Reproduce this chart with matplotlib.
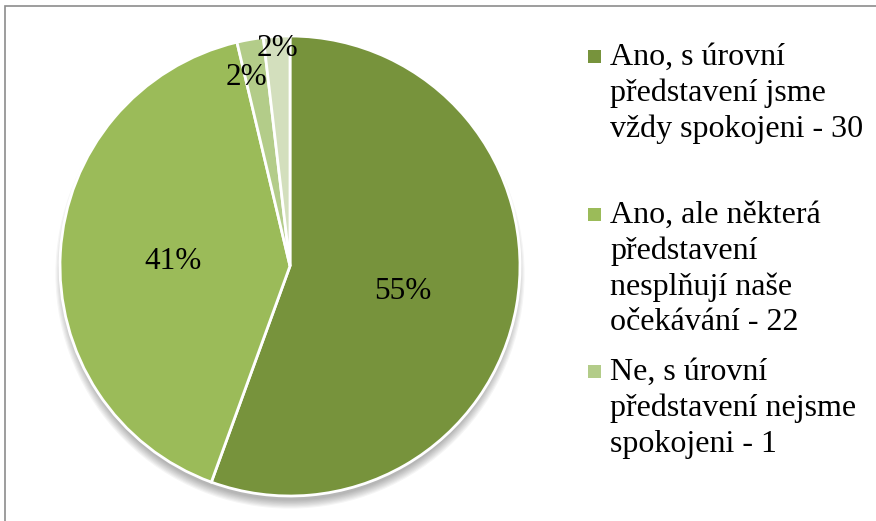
import matplotlib.pyplot as plt
from matplotlib.patches import Circle, Rectangle

plt.rcParams['font.family'] = ['Liberation Serif', 'DejaVu Serif']

# data
values = [30, 22, 1, 1]
pct_labels = ["55%", "41%", "2%", "2%"]
colors = ["#77933C", "#9BBB59", "#B3CC89", "#D3DFBD"]
legend_labels = [
    "Ano, s úrovní\npředstavení jsme\nvždy spokojeni - 30",
    "Ano, ale některá\npředstavení\nnesplňují naše\nočekávání - 22",
    "Ne, s úrovní\npředstavení nejsme\nspokojeni - 1",
]

W, H = 876, 521
fig = plt.figure(figsize=(W / 100, H / 100), dpi=100)

# outer chart frame (only top and left edges visible)
fig.patches.append(Rectangle((5 / W, -0.2), 1.2, (H - 6) / H + 0.2, transform=fig.transFigure,
                             fill=False, edgecolor="#8c8c8c", linewidth=1.2))

cx, cy, r = 290, 255, 230
ax = fig.add_axes([(cx - r) / W, (cy - r) / H, 2 * r / W, 2 * r / H])

# soft shadow under the pie (mostly below)
for i in range(8):
    ax.add_patch(Circle((0, -0.035), 0.985 + i * 0.005, facecolor="#000000",
                        alpha=0.04, edgecolor="none", zorder=0, clip_on=False))

wedges, texts = ax.pie(values, colors=colors, startangle=90, counterclock=False,
                       radius=1, wedgeprops=dict(edgecolor="white", linewidth=2))
for w in wedges:
    w.set_zorder(2)
ax.set_xlim(-1, 1)
ax.set_ylim(-1, 1)
ax.set_aspect("equal")
ax.axis("off")

# percentage labels
label_pos = [(0.49, -0.11), (-0.51, 0.02), (-0.19, 0.82), (-0.055, 0.945)]
for lab, (x, y) in zip(pct_labels, label_pos):
    ax.text(x, y, lab, ha="center", va="center", fontsize=22.5, zorder=3)

# legend drawn by hand so squares align with the first line
y0 = 65
step = 157.5
line_px = 36
for i, lab in enumerate(legend_labels):
    yb = y0 + i * step
    for j, line in enumerate(lab.split("\n")):
        fig.text(610 / W, 1 - (yb + j * line_px) / H, line, ha="left", va="baseline",
                 fontsize=23)
    fig.patches.append(Rectangle((588 / W, 1 - (yb - 2) / H), 13 / W, 13 / H,
                                 transform=fig.transFigure, facecolor=colors[i],
                                 edgecolor="none"))

fig.savefig("out.png", dpi=100)
